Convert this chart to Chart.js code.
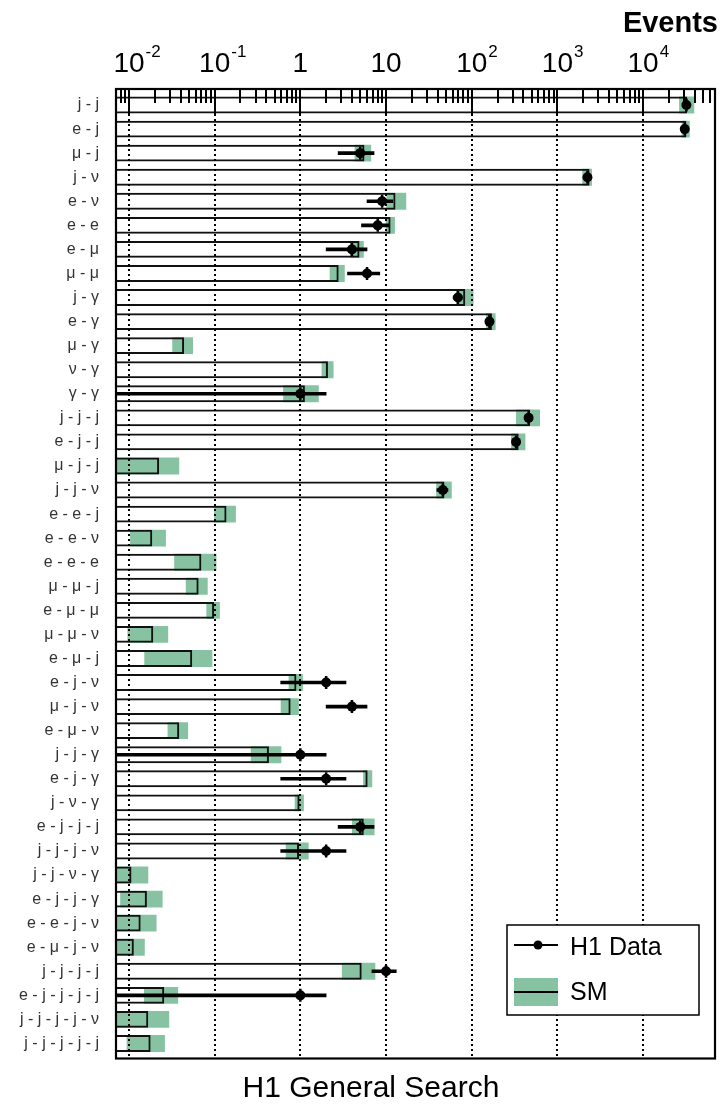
<!DOCTYPE html>
<html>
<head>
<meta charset="utf-8">
<title>H1 General Search</title>
<script src="https://cdn.jsdelivr.net/npm/chart.js@4.4.1/dist/chart.umd.min.js"></script>
<style>
  html, body { margin: 0; padding: 0; background: #fff; }
  #wrap { position: relative; width: 724px; height: 1115px; }
</style>
</head>
<body>
<div id="wrap"><canvas id="chart"></canvas></div>
<script>
// event classes, top to bottom
const categories = [
  'j - j', 'e - j', 'μ - j', 'j - ν', 'e - ν', 'e - e', 'e - μ', 'μ - μ',
  'j - γ', 'e - γ', 'μ - γ', 'ν - γ', 'γ - γ',
  'j - j - j', 'e - j - j', 'μ - j - j', 'j - j - ν', 'e - e - j', 'e - e - ν',
  'e - e - e', 'μ - μ - j', 'e - μ - μ', 'μ - μ - ν', 'e - μ - j', 'e - j - ν',
  'μ - j - ν', 'e - μ - ν', 'j - j - γ', 'e - j - γ', 'j - ν - γ',
  'e - j - j - j', 'j - j - j - ν', 'j - j - ν - γ', 'e - j - j - γ',
  'e - e - j - ν', 'e - μ - j - ν', 'j - j - j - j', 'e - j - j - j - j',
  'j - j - j - j - ν', 'j - j - j - j - j'
];

// SM expectation and its uncertainty band
const smValues = [
  32600, 32000, 5.6, 2370, 12.9, 11.3, 4.9, 2.8,
  84, 172, 0.044, 2.1, 1.13,
  479, 353, 0.0225, 48, 0.1375, 0.0187,
  0.070, 0.065, 0.0986, 0.0192, 0.0547, 0.90,
  0.77, 0.0386, 0.43, 6.1, 0.98,
  5.5, 0.965, 0.0107, 0.0162,
  0.0137, 0.0114, 5.2, 0.0258,
  0.0168, 0.0179
];
const smLow = [
  26300, 28200, 4.3, 1950, 10.1, 9.9, 3.8, 2.2,
  66, 147, 0.032, 1.77, 0.63,
  329, 288, 0.005, 38.5, 0.0986, 0.0103,
  0.0337, 0.046, 0.080, 0.0096, 0.0151, 0.73,
  0.59, 0.0282, 0.264, 5.4, 0.86,
  4.0, 0.675, 0.005, 0.0079,
  0.005, 0.005, 3.05, 0.015,
  0.005, 0.0094
];
const smHigh = [
  39500, 35000, 6.7, 2530, 17.2, 12.7, 5.5, 3.3,
  105, 190, 0.056, 2.44, 1.64,
  626, 423, 0.0386, 58.5, 0.177, 0.027,
  0.105, 0.083, 0.115, 0.0287, 0.094, 1.07,
  0.96, 0.049, 0.60, 6.9, 1.10,
  7.35, 1.25, 0.0168, 0.0247,
  0.021, 0.0153, 7.5, 0.0375,
  0.0295, 0.0263
];

// H1 data (null = no event observed) and statistical errors
const dataValues = [
  32000, 30600, 5, 2240, 9, 8, 4, 6,
  69, 161, null, null, 1,
  461, 329, null, 46, null, null,
  null, null, null, null, null, 2,
  4, null, 1, 2, null,
  5, 2, null, null,
  null, null, 10, 1,
  null, null
];
const dataErrors = [
  180, 175, 2.24, 47, 3, 2.83, 2, 2.45,
  8.3, 12.7, null, null, 1,
  21.5, 18.1, null, 6.8, null, null,
  null, null, null, null, null, 1.41,
  2, null, 1, 1.41, null,
  2.24, 1.41, null, null,
  null, null, 3.16, 1,
  null, null
];

// top axis labels and tick marks
const decadeValues = [0.01, 0.1, 1, 10, 100, 1000, 10000];
const decadeBase = ['10', '10', '1', '10', '10', '10', '10'];
const decadeExp = ['-2', '-1', '', '', '2', '3', '4'];
const minorDecades = [0.001, 0.01, 0.1, 1, 10, 100, 1000, 10000];
const minorSteps = [2, 3, 4, 5, 6, 7, 8, 9];

const X_MIN = 0.00706;
const X_MAX = 69000;
const FONT = "'Liberation Sans', Arial, Helvetica, sans-serif";
const GREEN = '#87c3a3';

// floating bars built from the arrays above
const fillBars = smValues.map(v => [X_MIN, v]);
const bandBars = smLow.map((lo, i) => [lo, smHigh[i]]);
const errBars = dataValues.map((d, i) => d === null ? null : [Math.max(d - dataErrors[i], 1e-4), d + dataErrors[i]]);
const points = [];
dataValues.forEach((d, i) => { if (d !== null) points.push({ x: d, y: categories[i] }); });

const minorValues = [];
minorDecades.forEach(d => minorSteps.forEach(s => {
  const v = d * s;
  if (v > X_MIN && v < X_MAX) minorValues.push(v);
}));

// frame, inner tick marks, dotted decade lines, labels and legend
const decor = {
  id: 'decor',
  afterDatasetDraw(chart, args) {
    if (args.index !== 2) return;   // right after the SM outlines
    const { ctx, chartArea } = chart;
    const sx = chart.scales.x;
    ctx.save();
    ctx.strokeStyle = '#000';
    ctx.lineWidth = 2;
    ctx.setLineDash([2, 3]);
    decadeValues.forEach(v => {
      const x = Math.round(sx.getPixelForValue(v));
      ctx.beginPath();
      ctx.moveTo(x, chartArea.top - 4);
      ctx.lineTo(x, chartArea.bottom + 3);
      ctx.stroke();
    });
    ctx.restore();
  },
  afterDraw(chart) {
    const { ctx, chartArea } = chart;
    const sx = chart.scales.x;
    const top = chartArea.top - 4;
    const bottom = chartArea.bottom + 3;
    ctx.save();

    // tick marks hanging from the top frame
    ctx.strokeStyle = '#000';
    ctx.lineWidth = 2;
    const tick = (v, len) => {
      const x = Math.round(sx.getPixelForValue(v));
      ctx.beginPath();
      ctx.moveTo(x, top);
      ctx.lineTo(x, top + len);
      ctx.stroke();
    };
    minorValues.forEach(v => tick(v, 14));
    decadeValues.forEach(v => tick(v, 27));

    // frame
    ctx.lineWidth = 2.2;
    ctx.strokeRect(chartArea.left, top, chartArea.right - chartArea.left, bottom - top);

    // decade labels with superscripts
    ctx.fillStyle = '#000';
    ctx.textBaseline = 'alphabetic';
    decadeValues.forEach((v, i) => {
      const x = sx.getPixelForValue(v);
      ctx.font = '28px ' + FONT;
      const w = ctx.measureText(decadeBase[i]).width;
      ctx.textAlign = 'left';
      ctx.fillText(decadeBase[i], x - w / 2, 72);
      if (decadeExp[i]) {
        ctx.font = '17px ' + FONT;
        ctx.fillText(decadeExp[i], x + w / 2 + 1, 57);
      }
    });

    ctx.font = 'bold 29px ' + FONT;
    ctx.textAlign = 'right';
    ctx.fillText('Events', 718, 32);

    ctx.font = '30px ' + FONT;
    ctx.textAlign = 'center';
    ctx.fillText('H1 General Search', 371, 1097);

    // legend
    ctx.fillStyle = '#fff';
    ctx.fillRect(507, 925, 192, 90);
    ctx.lineWidth = 1.5;
    ctx.strokeStyle = '#000';
    ctx.strokeRect(507, 925, 192, 90);
    ctx.lineWidth = 2;
    ctx.beginPath();
    ctx.moveTo(514, 945);
    ctx.lineTo(558, 945);
    ctx.stroke();
    ctx.fillStyle = '#000';
    ctx.beginPath();
    ctx.arc(538, 945, 4.5, 0, Math.PI * 2);
    ctx.fill();
    ctx.fillStyle = GREEN;
    ctx.fillRect(514, 978, 44, 28);
    ctx.beginPath();
    ctx.moveTo(514, 992);
    ctx.lineTo(558, 992);
    ctx.stroke();
    ctx.fillStyle = '#000';
    ctx.font = '25px ' + FONT;
    ctx.textAlign = 'left';
    ctx.fillText('H1 Data', 570, 955);
    ctx.fillText('SM', 570, 1000);
    ctx.restore();
  }
};

const barCommon = { type: 'bar', grouped: false, clip: 0, barPercentage: 0.7, categoryPercentage: 1 };

new Chart(document.getElementById('chart'), {
  data: {
    labels: categories,
    datasets: [
      Object.assign({}, barCommon, { label: 'SM fill', data: fillBars, backgroundColor: '#fff', borderWidth: 0, order: 5 }),
      Object.assign({}, barCommon, { label: 'SM band', data: bandBars, backgroundColor: GREEN, borderWidth: 0, order: 4 }),
      Object.assign({}, barCommon, { label: 'SM', data: fillBars, backgroundColor: 'rgba(0,0,0,0)',
        borderColor: '#111', borderWidth: 2, borderSkipped: 'start', order: 3 }),
      Object.assign({}, barCommon, { label: 'H1 err', data: errBars, backgroundColor: '#000',
        borderWidth: 0, barThickness: 3, order: 2 }),
      { type: 'line', label: 'H1 Data', data: points, showLine: false, order: 1, clip: 0,
        pointRadius: 5, pointHoverRadius: 5, pointBackgroundColor: '#000', pointBorderWidth: 0 },
      { type: 'line', label: 'H1 marker', data: points, showLine: false, order: 0, clip: 0,
        pointStyle: 'line', rotation: 90, pointRadius: 6.5, pointBorderColor: '#000', pointBorderWidth: 2.5 }
    ]
  },
  options: {
    indexAxis: 'y',
    responsive: true,
    maintainAspectRatio: false,
    animation: false,
    layout: { padding: { top: 93, bottom: 59.5, left: 0, right: 8 } },
    scales: {
      x: {
        type: 'logarithmic',
        position: 'top',
        min: X_MIN,
        max: X_MAX,
        display: false
      },
      y: {
        type: 'category',
        offset: true,
        grid: { display: false, drawTicks: false },
        border: { display: false },
        ticks: { autoSkip: false, padding: 17, color: '#333', font: { family: FONT, size: 16 } },
        afterFit(scale) { scale.width = 116; }
      }
    },
    plugins: {
      legend: { display: false },
      tooltip: { enabled: false }
    }
  },
  plugins: [decor]
});
</script>
</body>
</html>
